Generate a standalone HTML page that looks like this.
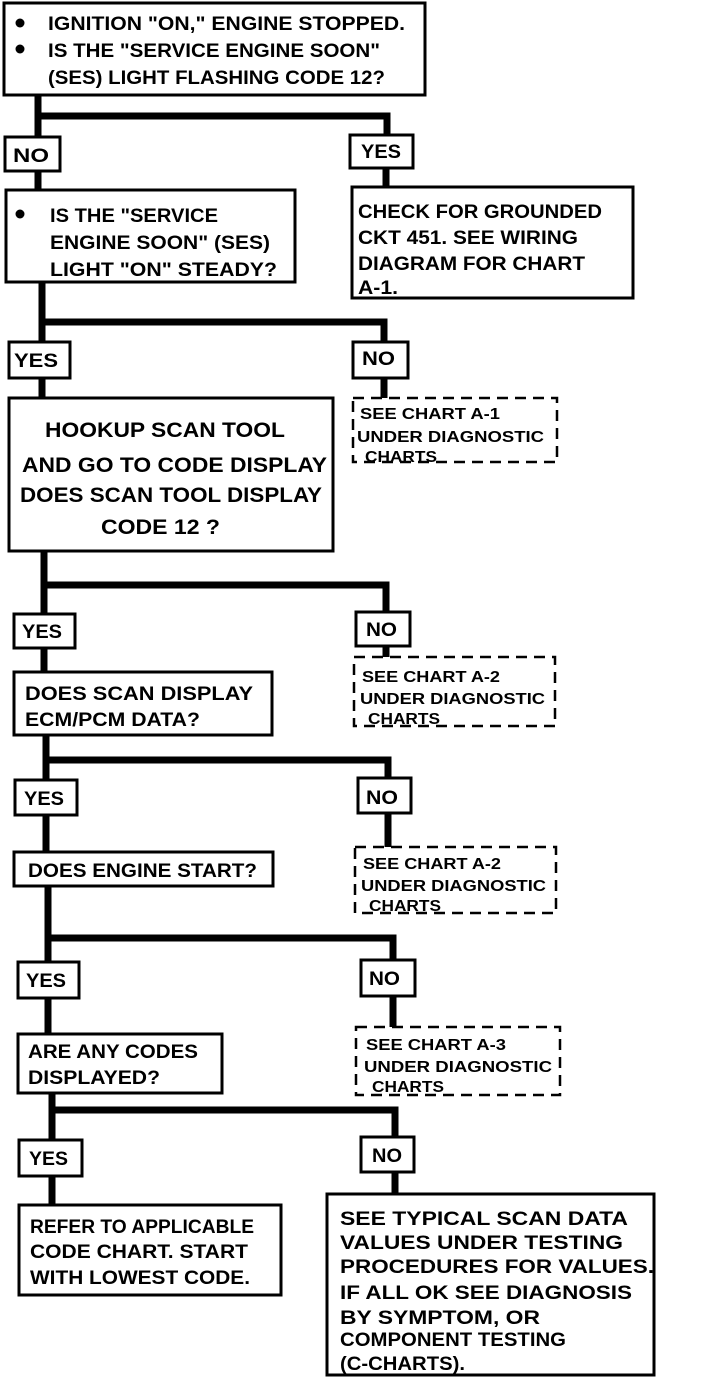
<!DOCTYPE html>
<html><head><meta charset="utf-8"><style>
html,body{margin:0;padding:0;background:#fff}
svg{display:block}
text{font-family:"Liberation Sans",sans-serif;font-weight:bold;fill:#000}
.b{fill:#fff;stroke:#000;stroke-width:3}
.d{fill:none;stroke:#000;stroke-width:2.5;stroke-dasharray:11,7}
.l{stroke:#000;stroke-width:7;fill:none}
</style></head><body>
<svg width="704" height="1378" viewBox="0 0 704 1378" xmlns="http://www.w3.org/2000/svg">
<!-- connectors -->
<path class="l" d="M38 95V137M38 116H387V135M38 171V190M386 168V187"/>
<path class="l" d="M42 282V342M42 322H384V342M384 378V398M42 378V398"/>
<path class="l" d="M44 551V614M44 585H386V612M386 646V657M44 648V672"/>
<path class="l" d="M46 735V780M46 760H388V778M388 813V847M46 815V852"/>
<path class="l" d="M48 886V962M48 938H393V960M393 996V1027M48 998V1034"/>
<path class="l" d="M52 1093V1140M52 1110H395V1137M395 1172V1194M52 1176V1205"/>
<!-- boxes -->
<rect class="b" x="4" y="3" width="421" height="92"/>
<rect class="b" x="5" y="137" width="55" height="34"/>
<rect class="b" x="350" y="135" width="63" height="33"/>
<rect class="b" x="6" y="190" width="289" height="92"/>
<rect class="b" x="352" y="187" width="281" height="111"/>
<rect class="b" x="9" y="342" width="61" height="36"/>
<rect class="b" x="353" y="342" width="55" height="36"/>
<rect class="d" x="353" y="398" width="204" height="64"/>
<rect class="b" x="9" y="398" width="324" height="153"/>
<rect class="b" x="14" y="614" width="61" height="34"/>
<rect class="b" x="356" y="612" width="54" height="34"/>
<rect class="d" x="354" y="657" width="201" height="69"/>
<rect class="b" x="14" y="672" width="258" height="63"/>
<rect class="b" x="15" y="780" width="62" height="35"/>
<rect class="b" x="358" y="778" width="53" height="35"/>
<rect class="b" x="14" y="852" width="259" height="34"/>
<rect class="d" x="355" y="847" width="201" height="66"/>
<rect class="b" x="18" y="962" width="61" height="36"/>
<rect class="b" x="361" y="960" width="54" height="36"/>
<rect class="d" x="356" y="1027" width="204" height="68"/>
<rect class="b" x="18" y="1034" width="204" height="59"/>
<rect class="b" x="19" y="1140" width="63" height="36"/>
<rect class="b" x="361" y="1137" width="53" height="35"/>
<rect class="b" x="19" y="1205" width="262" height="90"/>
<rect class="b" x="327" y="1194" width="327" height="181"/>
<!-- bullets -->
<circle cx="20" cy="23" r="4.5"/><circle cx="20" cy="49" r="4.5"/><circle cx="20" cy="214" r="4.5"/>
<!-- text -->
<g font-size="19">
<text x="48" y="30" textLength="357" lengthAdjust="spacingAndGlyphs">IGNITION "ON," ENGINE STOPPED.</text>
<text x="48" y="57" textLength="332" lengthAdjust="spacingAndGlyphs">IS THE "SERVICE ENGINE SOON"</text>
<text x="48" y="84" textLength="337" lengthAdjust="spacingAndGlyphs">(SES) LIGHT FLASHING CODE 12?</text>
<text x="50" y="222" textLength="168" lengthAdjust="spacingAndGlyphs">IS THE "SERVICE</text>
<text x="50" y="249" textLength="220" lengthAdjust="spacingAndGlyphs">ENGINE SOON" (SES)</text>
<text x="50" y="276" textLength="227" lengthAdjust="spacingAndGlyphs">LIGHT "ON" STEADY?</text>
<text x="358" y="218" textLength="244" lengthAdjust="spacingAndGlyphs">CHECK FOR GROUNDED</text>
<text x="358" y="244" textLength="220" lengthAdjust="spacingAndGlyphs">CKT 451.  SEE WIRING</text>
<text x="358" y="270" textLength="227" lengthAdjust="spacingAndGlyphs">DIAGRAM FOR CHART</text>
<text x="358" y="294" textLength="40" lengthAdjust="spacingAndGlyphs">A-1.</text>
<text x="13" y="162" textLength="36" lengthAdjust="spacingAndGlyphs">NO</text>
<text x="361" y="158" textLength="40" lengthAdjust="spacingAndGlyphs">YES</text>
<text x="14" y="367" textLength="44" lengthAdjust="spacingAndGlyphs">YES</text>
<text x="362" y="365" textLength="33" lengthAdjust="spacingAndGlyphs">NO</text>
<text x="22" y="638" textLength="40" lengthAdjust="spacingAndGlyphs">YES</text>
<text x="366" y="636" textLength="31" lengthAdjust="spacingAndGlyphs">NO</text>
<text x="25" y="700" textLength="228" lengthAdjust="spacingAndGlyphs">DOES  SCAN   DISPLAY</text>
<text x="25" y="726" textLength="175" lengthAdjust="spacingAndGlyphs">ECM/PCM DATA?</text>
<text x="24" y="805" textLength="40" lengthAdjust="spacingAndGlyphs">YES</text>
<text x="366" y="804" textLength="32" lengthAdjust="spacingAndGlyphs">NO</text>
<text x="28" y="877" textLength="229" lengthAdjust="spacingAndGlyphs">DOES ENGINE START?</text>
<text x="26" y="987" textLength="40" lengthAdjust="spacingAndGlyphs">YES</text>
<text x="369" y="985" textLength="31" lengthAdjust="spacingAndGlyphs">NO</text>
<text x="28" y="1058" textLength="170" lengthAdjust="spacingAndGlyphs">ARE ANY CODES</text>
<text x="28" y="1084" textLength="132" lengthAdjust="spacingAndGlyphs">DISPLAYED?</text>
<text x="29" y="1165" textLength="39" lengthAdjust="spacingAndGlyphs">YES</text>
<text x="372" y="1162" textLength="30" lengthAdjust="spacingAndGlyphs">NO</text>
<text x="30" y="1233" textLength="224" lengthAdjust="spacingAndGlyphs">REFER TO APPLICABLE</text>
<text x="30" y="1258" textLength="218" lengthAdjust="spacingAndGlyphs">CODE CHART.  START</text>
<text x="30" y="1284" textLength="220" lengthAdjust="spacingAndGlyphs">WITH LOWEST CODE.</text>
<text x="340" y="1225" textLength="288" lengthAdjust="spacingAndGlyphs">SEE TYPICAL SCAN DATA</text>
<text x="340" y="1249" textLength="283" lengthAdjust="spacingAndGlyphs">VALUES UNDER TESTING</text>
<text x="340" y="1273" textLength="314" lengthAdjust="spacingAndGlyphs">PROCEDURES FOR VALUES.</text>
<text x="340" y="1299" textLength="292" lengthAdjust="spacingAndGlyphs">IF ALL OK SEE DIAGNOSIS</text>
<text x="340" y="1324" textLength="200" lengthAdjust="spacingAndGlyphs">BY SYMPTOM, OR</text>
<text x="340" y="1346" textLength="226" lengthAdjust="spacingAndGlyphs">COMPONENT  TESTING</text>
<text x="340" y="1370" textLength="125" lengthAdjust="spacingAndGlyphs">(C-CHARTS).</text>
</g>
<g font-size="21">
<text x="45" y="437" textLength="240" lengthAdjust="spacingAndGlyphs">HOOKUP  SCAN TOOL</text>
<text x="22" y="472" textLength="305" lengthAdjust="spacingAndGlyphs">AND GO TO CODE  DISPLAY</text>
<text x="20" y="502" textLength="302" lengthAdjust="spacingAndGlyphs">DOES SCAN TOOL DISPLAY</text>
<text x="101" y="534" textLength="119" lengthAdjust="spacingAndGlyphs">CODE 12  ?</text>
</g>
<g font-size="16">
<text x="360" y="419" textLength="140" lengthAdjust="spacingAndGlyphs">SEE CHART A-1</text>
<text x="357" y="442" textLength="187" lengthAdjust="spacingAndGlyphs">UNDER DIAGNOSTIC</text>
<text x="365" y="462" textLength="72" lengthAdjust="spacingAndGlyphs">CHARTS</text>
<text x="362" y="682" textLength="138" lengthAdjust="spacingAndGlyphs">SEE CHART A-2</text>
<text x="360" y="704" textLength="185" lengthAdjust="spacingAndGlyphs">UNDER DIAGNOSTIC</text>
<text x="368" y="724" textLength="72" lengthAdjust="spacingAndGlyphs">CHARTS</text>
<text x="363" y="869" textLength="138" lengthAdjust="spacingAndGlyphs">SEE CHART A-2</text>
<text x="361" y="891" textLength="185" lengthAdjust="spacingAndGlyphs">UNDER DIAGNOSTIC</text>
<text x="369" y="911" textLength="72" lengthAdjust="spacingAndGlyphs">CHARTS</text>
<text x="366" y="1050" textLength="140" lengthAdjust="spacingAndGlyphs">SEE CHART  A-3</text>
<text x="364" y="1072" textLength="188" lengthAdjust="spacingAndGlyphs">UNDER DIAGNOSTIC</text>
<text x="372" y="1092" textLength="72" lengthAdjust="spacingAndGlyphs">CHARTS</text>
</g>
</svg>
</body></html>
